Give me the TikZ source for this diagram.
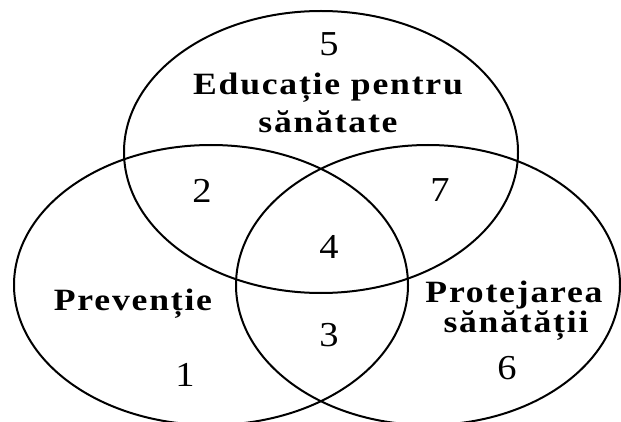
\documentclass[tikz,border=0pt]{standalone}
\usepackage{fontspec}
\setmainfont{Liberation Serif}
\newfontfamily\lblfont[LetterSpace=5]{Liberation Serif}
\begin{document}
\begin{tikzpicture}[x=1pt,y=-1pt,
  setring/.style={line width=2pt, draw=black},
  lbl/.style={inner sep=0pt, anchor=base, xscale=1.15, font=\lblfont\bfseries\fontsize{31}{37}\selectfont},
  num/.style={inner sep=0pt, xscale=1.1, font=\fontsize{35}{41}\selectfont}]
\useasboundingbox (0,0) rectangle (621,422);
\draw[setring] (321,152) ellipse [x radius=197pt, y radius=141pt];
\draw[setring] (211,285) ellipse [x radius=197pt, y radius=140pt];
\draw[setring] (428,285) ellipse [x radius=192pt, y radius=140pt];
\node[lbl] (edu1) at (328,95) {Educație pentru};
\node[lbl] (edu2) at (328,133) {sănătate};
\node[lbl] (prev) at (133,310) {Prevenție};
\node[lbl] (prot1) at (514,302) {Protejarea};
\node[lbl] (prot2) at (516,332) {sănătății};
\node[num] (n5) at (329,44) {5};
\node[num] (n2) at (202,191) {2};
\node[num] (n7) at (440,190) {7};
\node[num] (n4) at (329,247) {4};
\node[num] (n3) at (329,335) {3};
\node[num] (n1) at (185,375) {1};
\node[num] (n6) at (507,368) {6};
\end{tikzpicture}
\end{document}
